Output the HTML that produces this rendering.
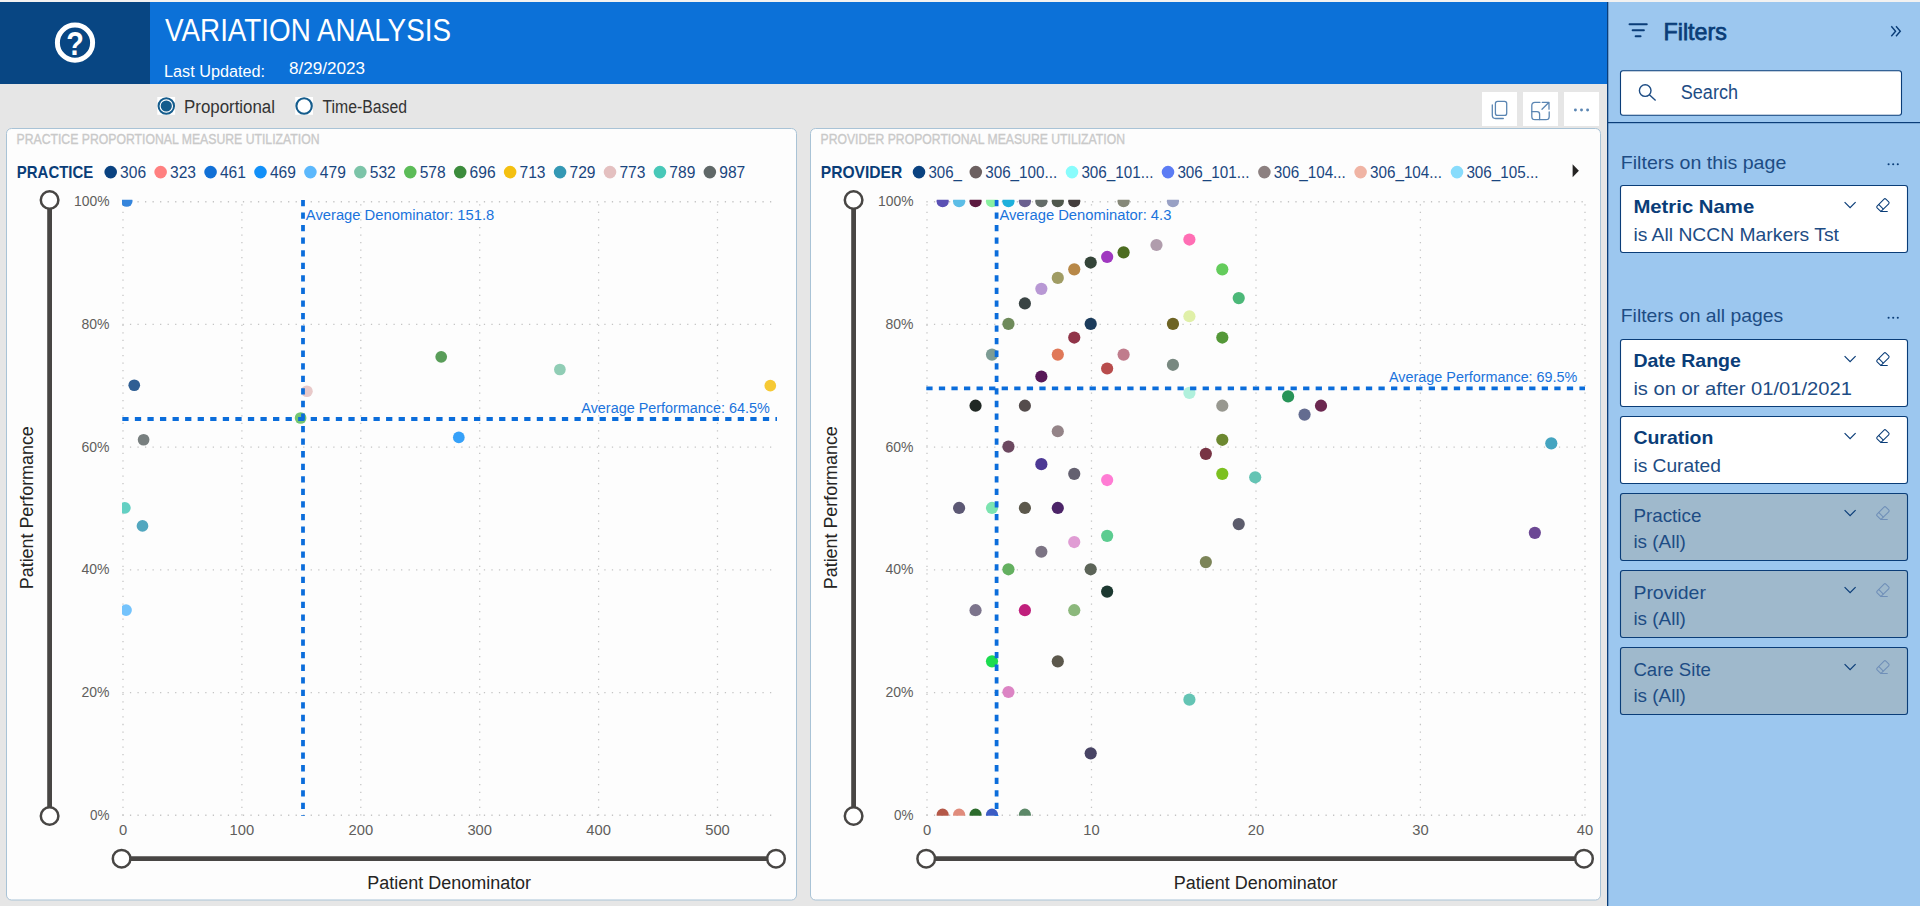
<!DOCTYPE html>
<html lang="en"><head><meta charset="utf-8"><title>Variation Analysis</title>
<style>
html,body{margin:0;padding:0;background:#e6e6e6;overflow:hidden}
svg{display:block;font-family:"Liberation Sans",sans-serif}
</style></head><body>
<svg width="1920" height="906" viewBox="0 0 1920 906">
<rect x="0" y="0" width="1920" height="906" fill="#e6e6e6"/>
<rect x="0" y="0" width="1920" height="2" fill="#f3f2f1"/>
<rect x="0" y="2" width="150" height="82" fill="#084683"/>
<rect x="150" y="2" width="1457" height="82" fill="#0c71d8"/>
<circle cx="75" cy="42.65" r="17.6" fill="none" stroke="#fff" stroke-width="5"/>
<text x="66.2" y="55" font-size="32.8" fill="#fff" textLength="17.6" lengthAdjust="spacingAndGlyphs" font-weight="bold" >?</text>
<text x="165" y="40.75" font-size="30.6" fill="#fff" textLength="286" lengthAdjust="spacingAndGlyphs" >VARIATION ANALYSIS</text>
<text x="164" y="76.75" font-size="17.2" fill="#fff" textLength="101" lengthAdjust="spacingAndGlyphs" >Last Updated:</text>
<text x="289" y="74.25" font-size="17.2" fill="#fff" textLength="76" lengthAdjust="spacingAndGlyphs" >8/29/2023</text>
<rect x="157.3" y="97" width="17.8" height="17.8" fill="#fff"/>
<circle cx="166.3" cy="106" r="7.75" fill="#fff" stroke="#155c8c" stroke-width="2"/>
<circle cx="166.3" cy="106" r="5.6" fill="#155c8c"/>
<text x="184" y="113" font-size="17.6" fill="#333" textLength="91" lengthAdjust="spacingAndGlyphs" >Proportional</text>
<rect x="295.2" y="97" width="17.8" height="17.8" fill="#fff"/>
<circle cx="304.1" cy="106" r="7.7" fill="#fff" stroke="#155c8c" stroke-width="2.1"/>
<text x="322.5" y="113" font-size="17.6" fill="#333" textLength="84.5" lengthAdjust="spacingAndGlyphs" >Time-Based</text>
<rect x="1482" y="92" width="35" height="34" fill="#fff"/>
<rect x="1523" y="92" width="35" height="34" fill="#fff"/>
<rect x="1564" y="92" width="35" height="34" fill="#fff"/>
<g fill="none" stroke="#5b86b3" stroke-width="1.3" stroke-linecap="round" stroke-linejoin="round">
<rect x="1495.4" y="101.3" width="11.3" height="14.1" rx="2.2"/>
<path d="M1492.3 105 V115.3 Q1492.3 118.5 1495.6 118.5 H1503.3"/>
<path d="M1540 102.3 H1535 Q1531.8 102.3 1531.8 105.5 V116.4 Q1531.8 119.6 1535 119.6 H1546 Q1549.2 119.6 1549.2 116.4 V112"/>
<path d="M1531.8 111.7 H1537 Q1539.6 111.7 1539.6 114.3 V119.6"/>
<path d="M1542 109.3 L1548.8 102.5 M1542.2 102.3 H1549 V109.2"/>
</g>
<circle cx="1575.4" cy="110" r="1.45" fill="#5b86b3"/>
<circle cx="1581.5" cy="110" r="1.45" fill="#5b86b3"/>
<circle cx="1587.6" cy="110" r="1.45" fill="#5b86b3"/>
<rect x="6.5" y="128.5" width="790" height="771.5" rx="5" fill="#fdfdfd" stroke="#a9c3d6" stroke-width="1"/>
<rect x="810.5" y="128.5" width="790" height="771.5" rx="5" fill="#fdfdfd" stroke="#a9c3d6" stroke-width="1"/>
<text x="16.5" y="144.25" font-size="13.9" fill="#c9c9c9" textLength="303" lengthAdjust="spacingAndGlyphs" stroke="#c9c9c9" stroke-width="0.35">PRACTICE PROPORTIONAL MEASURE UTILIZATION</text>
<text x="16.8" y="177.8" font-size="16.9" fill="#0a3d78" textLength="76.5" lengthAdjust="spacingAndGlyphs" font-weight="bold" >PRACTICE</text>
<circle cx="110.7" cy="172.1" r="6.3" fill="#0a4280"/>
<text x="120.1" y="177.8" font-size="16.7" fill="#1a467f" textLength="26" lengthAdjust="spacingAndGlyphs" >306</text>
<circle cx="160.63" cy="172.1" r="6.3" fill="#ff8080"/>
<text x="170.03" y="177.8" font-size="16.7" fill="#1a467f" textLength="26" lengthAdjust="spacingAndGlyphs" >323</text>
<circle cx="210.56" cy="172.1" r="6.3" fill="#1170d6"/>
<text x="219.96" y="177.8" font-size="16.7" fill="#1a467f" textLength="26" lengthAdjust="spacingAndGlyphs" >461</text>
<circle cx="260.49" cy="172.1" r="6.3" fill="#1290f8"/>
<text x="269.89" y="177.8" font-size="16.7" fill="#1a467f" textLength="26" lengthAdjust="spacingAndGlyphs" >469</text>
<circle cx="310.42" cy="172.1" r="6.3" fill="#5cb8fc"/>
<text x="319.82" y="177.8" font-size="16.7" fill="#1a467f" textLength="26" lengthAdjust="spacingAndGlyphs" >479</text>
<circle cx="360.35" cy="172.1" r="6.3" fill="#7cc4a8"/>
<text x="369.75" y="177.8" font-size="16.7" fill="#1a467f" textLength="26" lengthAdjust="spacingAndGlyphs" >532</text>
<circle cx="410.28" cy="172.1" r="6.3" fill="#5cbc58"/>
<text x="419.68" y="177.8" font-size="16.7" fill="#1a467f" textLength="26" lengthAdjust="spacingAndGlyphs" >578</text>
<circle cx="460.21" cy="172.1" r="6.3" fill="#3c8c3c"/>
<text x="469.61" y="177.8" font-size="16.7" fill="#1a467f" textLength="26" lengthAdjust="spacingAndGlyphs" >696</text>
<circle cx="510.14" cy="172.1" r="6.3" fill="#f4c010"/>
<text x="519.54" y="177.8" font-size="16.7" fill="#1a467f" textLength="26" lengthAdjust="spacingAndGlyphs" >713</text>
<circle cx="560.07" cy="172.1" r="6.3" fill="#3498b4"/>
<text x="569.47" y="177.8" font-size="16.7" fill="#1a467f" textLength="26" lengthAdjust="spacingAndGlyphs" >729</text>
<circle cx="610.0" cy="172.1" r="6.3" fill="#e4c0c0"/>
<text x="619.4" y="177.8" font-size="16.7" fill="#1a467f" textLength="26" lengthAdjust="spacingAndGlyphs" >773</text>
<circle cx="659.93" cy="172.1" r="6.3" fill="#48c8b8"/>
<text x="669.33" y="177.8" font-size="16.7" fill="#1a467f" textLength="26" lengthAdjust="spacingAndGlyphs" >789</text>
<circle cx="709.86" cy="172.1" r="6.3" fill="#606868"/>
<text x="719.26" y="177.8" font-size="16.7" fill="#1a467f" textLength="26" lengthAdjust="spacingAndGlyphs" >987</text>
<g stroke="#c4c4c4" stroke-width="1.26" stroke-dasharray="1.26 6.27" fill="none">
<path d="M122.4 815.25 H772"/>
<path d="M122.4 692.55 H772"/>
<path d="M122.4 569.85 H772"/>
<path d="M122.4 447.15 H772"/>
<path d="M122.4 324.45 H772"/>
<path d="M122.4 201.75 H772"/>
<path d="M123 204.3 V816"/>
<path d="M241.9 204.3 V816"/>
<path d="M360.8 204.3 V816"/>
<path d="M479.7 204.3 V816"/>
<path d="M598.6 204.3 V816"/>
<path d="M717.5 204.3 V816"/>
</g>
<text x="90.0" y="819.85" font-size="15" fill="#605e5c" textLength="19.5" lengthAdjust="spacingAndGlyphs" >0%</text>
<text x="81.5" y="697.15" font-size="15" fill="#605e5c" textLength="28" lengthAdjust="spacingAndGlyphs" >20%</text>
<text x="81.5" y="574.45" font-size="15" fill="#605e5c" textLength="28" lengthAdjust="spacingAndGlyphs" >40%</text>
<text x="81.5" y="451.75" font-size="15" fill="#605e5c" textLength="28" lengthAdjust="spacingAndGlyphs" >60%</text>
<text x="81.5" y="329.05" font-size="15" fill="#605e5c" textLength="28" lengthAdjust="spacingAndGlyphs" >80%</text>
<text x="74.0" y="206.35" font-size="15" fill="#605e5c" textLength="35.5" lengthAdjust="spacingAndGlyphs" >100%</text>
<text x="118.9" y="835" font-size="15" fill="#605e5c" textLength="8.2" lengthAdjust="spacingAndGlyphs" >0</text>
<text x="229.6" y="835" font-size="15" fill="#605e5c" textLength="24.6" lengthAdjust="spacingAndGlyphs" >100</text>
<text x="348.5" y="835" font-size="15" fill="#605e5c" textLength="24.6" lengthAdjust="spacingAndGlyphs" >200</text>
<text x="467.4" y="835" font-size="15" fill="#605e5c" textLength="24.6" lengthAdjust="spacingAndGlyphs" >300</text>
<text x="586.3" y="835" font-size="15" fill="#605e5c" textLength="24.6" lengthAdjust="spacingAndGlyphs" >400</text>
<text x="705.2" y="835" font-size="15" fill="#605e5c" textLength="24.6" lengthAdjust="spacingAndGlyphs" >500</text>
<path d="M49.6 200 V816" stroke="#484644" stroke-width="4.8"/>
<path d="M121.5 858.7 H776" stroke="#484644" stroke-width="4.8"/>
<circle cx="49.6" cy="200" r="8.8" fill="#fff" stroke="#484644" stroke-width="2.5"/>
<circle cx="49.6" cy="816" r="8.8" fill="#fff" stroke="#484644" stroke-width="2.5"/>
<circle cx="121.6" cy="858.7" r="8.8" fill="#fff" stroke="#484644" stroke-width="2.5"/>
<circle cx="776" cy="858.7" r="8.8" fill="#fff" stroke="#484644" stroke-width="2.5"/>
<text x="367.3" y="888.6" font-size="17.6" fill="#252423" textLength="163.8" lengthAdjust="spacingAndGlyphs" >Patient Denominator</text>
<text transform="translate(32.8 589.2) rotate(-90)" font-size="17.6" fill="#252423" textLength="163" lengthAdjust="spacingAndGlyphs">Patient Performance</text>
<clipPath id="cl"><rect x="122" y="199.8" width="664" height="616"/></clipPath>
<g clip-path="url(#cl)">
<circle cx="126.70" cy="201.00" r="5.85" fill="#3585dc"/>
<circle cx="134.25" cy="385.25" r="5.85" fill="#2f5e93"/>
<circle cx="143.60" cy="439.75" r="5.85" fill="#787f7f"/>
<circle cx="124.85" cy="507.80" r="5.85" fill="#63d0c3"/>
<circle cx="142.50" cy="525.90" r="5.85" fill="#52a7bf"/>
<circle cx="126.05" cy="610.10" r="5.85" fill="#74c3fc"/>
<circle cx="306.90" cy="391.25" r="5.85" fill="#e8c9c9"/>
<circle cx="300.60" cy="418.00" r="5.85" fill="#74c671"/>
<circle cx="441.20" cy="356.80" r="5.85" fill="#599d59"/>
<circle cx="458.80" cy="437.40" r="5.85" fill="#36a1f9"/>
<circle cx="559.90" cy="369.50" r="5.85" fill="#90cdb5"/>
<circle cx="770.30" cy="385.70" r="5.85" fill="#f6c934"/>
</g>
<g stroke="#0b6ddb" stroke-width="3.77" stroke-dasharray="6.28 6.28" fill="none">
<path d="M303 199.9 V816"/>
<path d="M122.3 419 H777"/>
</g>
<text x="305.8" y="219.8" font-size="14.9" fill="#1a73dc" textLength="188.5" lengthAdjust="spacingAndGlyphs" >Average Denominator: 151.8</text>
<text x="581.3" y="413.2" font-size="14.9" fill="#1a73dc" textLength="188.6" lengthAdjust="spacingAndGlyphs" >Average Performance: 64.5%</text>
<text x="820.5" y="144.25" font-size="13.9" fill="#c9c9c9" textLength="304.5" lengthAdjust="spacingAndGlyphs" stroke="#c9c9c9" stroke-width="0.35">PROVIDER PROPORTIONAL MEASURE UTILIZATION</text>
<text x="820.8" y="177.8" font-size="16.9" fill="#0a3d78" textLength="81.5" lengthAdjust="spacingAndGlyphs" font-weight="bold" >PROVIDER</text>
<circle cx="919" cy="172.1" r="6.3" fill="#0a4280"/>
<text x="928.4" y="177.8" font-size="16.7" fill="#1a467f" textLength="33.5" lengthAdjust="spacingAndGlyphs" >306_</text>
<circle cx="975.8" cy="172.1" r="6.3" fill="#6c6060"/>
<text x="985.2" y="177.8" font-size="16.7" fill="#1a467f" textLength="72" lengthAdjust="spacingAndGlyphs" >306_100...</text>
<circle cx="1072" cy="172.1" r="6.3" fill="#88fcfc"/>
<text x="1081.4" y="177.8" font-size="16.7" fill="#1a467f" textLength="72" lengthAdjust="spacingAndGlyphs" >306_101...</text>
<circle cx="1168" cy="172.1" r="6.3" fill="#5c7cf4"/>
<text x="1177.4" y="177.8" font-size="16.7" fill="#1a467f" textLength="72" lengthAdjust="spacingAndGlyphs" >306_101...</text>
<circle cx="1264.4" cy="172.1" r="6.3" fill="#8c8080"/>
<text x="1273.8" y="177.8" font-size="16.7" fill="#1a467f" textLength="72" lengthAdjust="spacingAndGlyphs" >306_104...</text>
<circle cx="1360.6" cy="172.1" r="6.3" fill="#f0b4a4"/>
<text x="1370.0" y="177.8" font-size="16.7" fill="#1a467f" textLength="72" lengthAdjust="spacingAndGlyphs" >306_104...</text>
<circle cx="1457" cy="172.1" r="6.3" fill="#88dcfc"/>
<text x="1466.4" y="177.8" font-size="16.7" fill="#1a467f" textLength="72" lengthAdjust="spacingAndGlyphs" >306_105...</text>
<g stroke="#c4c4c4" stroke-width="1.26" stroke-dasharray="1.26 6.27" fill="none">
<path d="M926.4 815.25 H1585"/>
<path d="M926.4 692.55 H1585"/>
<path d="M926.4 569.85 H1585"/>
<path d="M926.4 447.15 H1585"/>
<path d="M926.4 324.45 H1585"/>
<path d="M926.4 201.75 H1585"/>
<path d="M927 204.3 V816"/>
<path d="M1091.5 204.3 V816"/>
<path d="M1256 204.3 V816"/>
<path d="M1420.4 204.3 V816"/>
<path d="M1585 204.3 V816"/>
</g>
<text x="894.0" y="819.85" font-size="15" fill="#605e5c" textLength="19.5" lengthAdjust="spacingAndGlyphs" >0%</text>
<text x="885.5" y="697.15" font-size="15" fill="#605e5c" textLength="28" lengthAdjust="spacingAndGlyphs" >20%</text>
<text x="885.5" y="574.45" font-size="15" fill="#605e5c" textLength="28" lengthAdjust="spacingAndGlyphs" >40%</text>
<text x="885.5" y="451.75" font-size="15" fill="#605e5c" textLength="28" lengthAdjust="spacingAndGlyphs" >60%</text>
<text x="885.5" y="329.05" font-size="15" fill="#605e5c" textLength="28" lengthAdjust="spacingAndGlyphs" >80%</text>
<text x="878.0" y="206.35" font-size="15" fill="#605e5c" textLength="35.5" lengthAdjust="spacingAndGlyphs" >100%</text>
<text x="922.9" y="835" font-size="15" fill="#605e5c" textLength="8.2" lengthAdjust="spacingAndGlyphs" >0</text>
<text x="1083.3" y="835" font-size="15" fill="#605e5c" textLength="16.4" lengthAdjust="spacingAndGlyphs" >10</text>
<text x="1247.8" y="835" font-size="15" fill="#605e5c" textLength="16.4" lengthAdjust="spacingAndGlyphs" >20</text>
<text x="1412.2" y="835" font-size="15" fill="#605e5c" textLength="16.4" lengthAdjust="spacingAndGlyphs" >30</text>
<text x="1576.8" y="835" font-size="15" fill="#605e5c" textLength="16.4" lengthAdjust="spacingAndGlyphs" >40</text>
<path d="M853.6 200 V816" stroke="#484644" stroke-width="4.8"/>
<path d="M925.5 858.7 H1584" stroke="#484644" stroke-width="4.8"/>
<circle cx="853.6" cy="200" r="8.8" fill="#fff" stroke="#484644" stroke-width="2.5"/>
<circle cx="853.6" cy="816" r="8.8" fill="#fff" stroke="#484644" stroke-width="2.5"/>
<circle cx="926.2" cy="858.7" r="8.8" fill="#fff" stroke="#484644" stroke-width="2.5"/>
<circle cx="1584" cy="858.7" r="8.8" fill="#fff" stroke="#484644" stroke-width="2.5"/>
<text x="1173.8" y="888.6" font-size="17.6" fill="#252423" textLength="163.8" lengthAdjust="spacingAndGlyphs" >Patient Denominator</text>
<text transform="translate(836.8 589.2) rotate(-90)" font-size="17.6" fill="#252423" textLength="163" lengthAdjust="spacingAndGlyphs">Patient Performance</text>
<clipPath id="cr"><rect x="926" y="199.8" width="673" height="616"/></clipPath>
<g clip-path="url(#cr)">
<circle cx="942.65" cy="201.20" r="6.1" fill="#5a50b4"/>
<circle cx="959.10" cy="201.20" r="6.1" fill="#5cbde6"/>
<circle cx="975.55" cy="201.20" r="6.1" fill="#5c1a40"/>
<circle cx="992.00" cy="201.20" r="6.1" fill="#88f0a0"/>
<circle cx="1008.45" cy="201.20" r="6.1" fill="#1eb0dc"/>
<circle cx="1024.90" cy="201.20" r="6.1" fill="#6a6090"/>
<circle cx="1041.35" cy="201.20" r="6.1" fill="#646c68"/>
<circle cx="1057.80" cy="201.20" r="6.1" fill="#50584c"/>
<circle cx="1074.25" cy="201.20" r="6.1" fill="#443e3c"/>
<circle cx="1123.60" cy="201.20" r="6.1" fill="#868878"/>
<circle cx="1172.95" cy="201.20" r="6.1" fill="#98a0c4"/>
<circle cx="1008.45" cy="323.90" r="6.1" fill="#6e8a5a"/>
<circle cx="1024.90" cy="303.45" r="6.1" fill="#3a4444"/>
<circle cx="1041.35" cy="288.84" r="6.1" fill="#b898d4"/>
<circle cx="1057.80" cy="277.89" r="6.1" fill="#a09c64"/>
<circle cx="1074.25" cy="269.37" r="6.1" fill="#b88848"/>
<circle cx="1090.70" cy="262.55" r="6.1" fill="#344438"/>
<circle cx="1107.15" cy="256.97" r="6.1" fill="#a038c0"/>
<circle cx="1123.60" cy="252.33" r="6.1" fill="#4c6c20"/>
<circle cx="1156.50" cy="245.02" r="6.1" fill="#b09cac"/>
<circle cx="1189.40" cy="239.54" r="6.1" fill="#ff6eb4"/>
<circle cx="1222.30" cy="269.37" r="6.1" fill="#64cc5c"/>
<circle cx="1238.75" cy="298.07" r="6.1" fill="#4cb878"/>
<circle cx="1189.40" cy="316.23" r="6.1" fill="#e0f0a8"/>
<circle cx="1172.95" cy="323.90" r="6.1" fill="#6e6424"/>
<circle cx="1090.70" cy="323.90" r="6.1" fill="#1c3c5c"/>
<circle cx="1222.30" cy="337.53" r="6.1" fill="#549838"/>
<circle cx="1074.25" cy="337.53" r="6.1" fill="#903448"/>
<circle cx="992.00" cy="354.58" r="6.1" fill="#7c9c94"/>
<circle cx="1057.80" cy="354.58" r="6.1" fill="#e07858"/>
<circle cx="1123.60" cy="354.58" r="6.1" fill="#c07c8c"/>
<circle cx="1107.15" cy="368.52" r="6.1" fill="#b84c4c"/>
<circle cx="1172.95" cy="364.80" r="6.1" fill="#788880"/>
<circle cx="1041.35" cy="376.49" r="6.1" fill="#581858"/>
<circle cx="1189.40" cy="392.92" r="6.1" fill="#b0f0dc"/>
<circle cx="1288.10" cy="396.40" r="6.1" fill="#289458"/>
<circle cx="1321.00" cy="405.70" r="6.1" fill="#6c2850"/>
<circle cx="1304.55" cy="414.59" r="6.1" fill="#646c90"/>
<circle cx="1222.30" cy="405.70" r="6.1" fill="#989890"/>
<circle cx="975.55" cy="405.70" r="6.1" fill="#202824"/>
<circle cx="1024.90" cy="405.70" r="6.1" fill="#544c4c"/>
<circle cx="1057.80" cy="431.26" r="6.1" fill="#948488"/>
<circle cx="1222.30" cy="439.78" r="6.1" fill="#6c8830"/>
<circle cx="1008.45" cy="446.60" r="6.1" fill="#6c4860"/>
<circle cx="1205.85" cy="453.82" r="6.1" fill="#783444"/>
<circle cx="1041.35" cy="464.13" r="6.1" fill="#4c3894"/>
<circle cx="1074.25" cy="473.87" r="6.1" fill="#646070"/>
<circle cx="1222.30" cy="473.87" r="6.1" fill="#7cc020"/>
<circle cx="1255.20" cy="477.28" r="6.1" fill="#64c4b4"/>
<circle cx="1107.15" cy="480.06" r="6.1" fill="#ff7cd4"/>
<circle cx="959.10" cy="507.95" r="6.1" fill="#5c5874"/>
<circle cx="992.00" cy="507.95" r="6.1" fill="#7ce4b0"/>
<circle cx="1024.90" cy="507.95" r="6.1" fill="#5c584c"/>
<circle cx="1057.80" cy="507.95" r="6.1" fill="#4c2468"/>
<circle cx="1238.75" cy="524.09" r="6.1" fill="#5c5c6c"/>
<circle cx="1107.15" cy="535.84" r="6.1" fill="#5ccc90"/>
<circle cx="1074.25" cy="542.03" r="6.1" fill="#e09cd4"/>
<circle cx="1041.35" cy="551.77" r="6.1" fill="#7c7484"/>
<circle cx="1205.85" cy="562.08" r="6.1" fill="#7c8458"/>
<circle cx="1008.45" cy="569.30" r="6.1" fill="#64b060"/>
<circle cx="1090.70" cy="569.30" r="6.1" fill="#5c6458"/>
<circle cx="1107.15" cy="591.61" r="6.1" fill="#1c3830"/>
<circle cx="975.55" cy="610.20" r="6.1" fill="#7c748c"/>
<circle cx="1024.90" cy="610.20" r="6.1" fill="#c0207c"/>
<circle cx="1074.25" cy="610.20" r="6.1" fill="#8cb87c"/>
<circle cx="992.00" cy="661.33" r="6.1" fill="#1cdc50"/>
<circle cx="1057.80" cy="661.33" r="6.1" fill="#5c584c"/>
<circle cx="1008.45" cy="692.00" r="6.1" fill="#dc84c4"/>
<circle cx="1189.40" cy="699.67" r="6.1" fill="#64c4b4"/>
<circle cx="1090.70" cy="753.35" r="6.1" fill="#484464"/>
<circle cx="942.65" cy="814.70" r="6.1" fill="#b45848"/>
<circle cx="959.10" cy="814.70" r="6.1" fill="#e08c7c"/>
<circle cx="975.55" cy="814.70" r="6.1" fill="#2c6c2c"/>
<circle cx="992.00" cy="814.70" r="6.1" fill="#3c5cc4"/>
<circle cx="1024.90" cy="814.70" r="6.1" fill="#5c8868"/>
<circle cx="1551.30" cy="443.37" r="6.1" fill="#44a4c0"/>
<circle cx="1534.85" cy="532.82" r="6.1" fill="#6c4894"/>
</g>
<g stroke="#0b6ddb" stroke-width="3.77" stroke-dasharray="6.28 6.28" fill="none">
<path d="M996.6 199.9 V816"/>
<path d="M926.3 388.4 H1585"/>
</g>
<text x="999.4" y="219.8" font-size="14.9" fill="#1a73dc" textLength="172" lengthAdjust="spacingAndGlyphs" >Average Denominator: 4.3</text>
<text x="1389.0" y="381.8" font-size="14.9" fill="#1a73dc" textLength="188.4" lengthAdjust="spacingAndGlyphs" >Average Performance: 69.5%</text>
<path d="M1572.6 164.2 L1578.9 170.75 L1572.6 177.3 Z" fill="#252423"/>
<rect x="1607" y="2" width="313" height="904" fill="#9cc7ef"/>
<rect x="1607" y="2" width="1.3" height="904" fill="#0a3d78"/>
<rect x="1608" y="122" width="312" height="1.2" fill="#0a3d78"/>
<g stroke="#0a3d78" stroke-width="1.9" stroke-linecap="round"><path d="M1629.5 24.2 H1646.8"/><path d="M1632.6 30.3 H1643.9"/><path d="M1635.6 36.2 H1640.6"/></g>
<text x="1663.6" y="39.7" font-size="23.8" fill="#0a3d78" textLength="63.2" lengthAdjust="spacingAndGlyphs" stroke="#0a3d78" stroke-width="0.75">Filters</text>
<path d="M1891.3 26.2 L1895.6 31.2 L1891.3 36.3 M1896 26.2 L1900.3 31.2 L1896 36.3" fill="none" stroke="#0a3d78" stroke-width="1.4"/>
<rect x="1620.5" y="70.8" width="281" height="44.5" rx="2.5" fill="#fff" stroke="#0a3d78" stroke-width="1.1"/>
<circle cx="1645.2" cy="90.6" r="5.8" fill="none" stroke="#1d4c84" stroke-width="1.4"/><path d="M1649.4 94.8 L1655.6 100.6" stroke="#1d4c84" stroke-width="1.4"/>
<text x="1680.8" y="98.7" font-size="19.4" fill="#1d4c84" textLength="57.2" lengthAdjust="spacingAndGlyphs" >Search</text>
<text x="1620.8" y="168.8" font-size="19" fill="#1d4c84" textLength="165.5" lengthAdjust="spacingAndGlyphs" >Filters on this page</text>
<circle cx="1888.6" cy="164.2" r="1.05" fill="#0a3d78"/>
<circle cx="1893.1999999999998" cy="164.2" r="1.05" fill="#0a3d78"/>
<circle cx="1897.8" cy="164.2" r="1.05" fill="#0a3d78"/>
<text x="1620.8" y="322.4" font-size="19" fill="#1d4c84" textLength="162.5" lengthAdjust="spacingAndGlyphs" >Filters on all pages</text>
<circle cx="1888.6" cy="317.8" r="1.05" fill="#0a3d78"/>
<circle cx="1893.1999999999998" cy="317.8" r="1.05" fill="#0a3d78"/>
<circle cx="1897.8" cy="317.8" r="1.05" fill="#0a3d78"/>
<rect x="1620.5" y="185.5" width="287" height="67" rx="2.5" fill="#fff" stroke="#0a3d78" stroke-width="1.1"/>
<text x="1633.4" y="213.3" font-size="18.6" fill="#0a3d78" textLength="120.8" lengthAdjust="spacingAndGlyphs" font-weight="bold" >Metric Name</text>
<text x="1633.4" y="240.8" font-size="19" fill="#1d4c84" textLength="205.5" lengthAdjust="spacingAndGlyphs" >is All NCCN Markers Tst</text>
<path d="M1844.6 202.20 L1850.1 207.70 L1855.6 202.20" fill="none" stroke="#0a3d78" stroke-width="1.2"/>
<g transform="translate(1882.9 204.9) rotate(-45)" fill="none" stroke="#0a3d78" stroke-width="1.05" stroke-linejoin="round"><rect x="-6.2" y="-3.3" width="12.4" height="6.6" rx="1.3"/><path d="M-2.7 -3.3 V3.3"/></g>
<path d="M1880.3 211.5 H1887.7" stroke="#0a3d78" stroke-width="1.05"/>
<rect x="1620.5" y="339.5" width="287" height="67" rx="2.5" fill="#fff" stroke="#0a3d78" stroke-width="1.1"/>
<text x="1633.4" y="367.3" font-size="18.6" fill="#0a3d78" textLength="107.5" lengthAdjust="spacingAndGlyphs" font-weight="bold" >Date Range</text>
<text x="1633.4" y="394.8" font-size="19" fill="#1d4c84" textLength="218.5" lengthAdjust="spacingAndGlyphs" >is on or after 01/01/2021</text>
<path d="M1844.6 356.20 L1850.1 361.70 L1855.6 356.20" fill="none" stroke="#0a3d78" stroke-width="1.2"/>
<g transform="translate(1882.9 358.9) rotate(-45)" fill="none" stroke="#0a3d78" stroke-width="1.05" stroke-linejoin="round"><rect x="-6.2" y="-3.3" width="12.4" height="6.6" rx="1.3"/><path d="M-2.7 -3.3 V3.3"/></g>
<path d="M1880.3 365.5 H1887.7" stroke="#0a3d78" stroke-width="1.05"/>
<rect x="1620.5" y="416.5" width="287" height="67" rx="2.5" fill="#fff" stroke="#0a3d78" stroke-width="1.1"/>
<text x="1633.4" y="444.3" font-size="18.6" fill="#0a3d78" textLength="80" lengthAdjust="spacingAndGlyphs" font-weight="bold" >Curation</text>
<text x="1633.4" y="471.8" font-size="19" fill="#1d4c84" textLength="87.5" lengthAdjust="spacingAndGlyphs" >is Curated</text>
<path d="M1844.6 433.20 L1850.1 438.70 L1855.6 433.20" fill="none" stroke="#0a3d78" stroke-width="1.2"/>
<g transform="translate(1882.9 435.9) rotate(-45)" fill="none" stroke="#0a3d78" stroke-width="1.05" stroke-linejoin="round"><rect x="-6.2" y="-3.3" width="12.4" height="6.6" rx="1.3"/><path d="M-2.7 -3.3 V3.3"/></g>
<path d="M1880.3 442.5 H1887.7" stroke="#0a3d78" stroke-width="1.05"/>
<rect x="1620.5" y="493.5" width="287" height="67" rx="2.5" fill="#9fb9cc" stroke="#0a3d78" stroke-width="1.1"/>
<text x="1633.4" y="521.7" font-size="19" fill="#1d4c84" textLength="68" lengthAdjust="spacingAndGlyphs" >Practice</text>
<text x="1633.4" y="548.1" font-size="19" fill="#1d4c84" textLength="52.5" lengthAdjust="spacingAndGlyphs" >is (All)</text>
<path d="M1844.6 510.20 L1850.1 515.70 L1855.6 510.20" fill="none" stroke="#0a3d78" stroke-width="1.2"/>
<g transform="translate(1882.9 512.9) rotate(-45)" fill="none" stroke="#6f8fb8" stroke-width="1.05" stroke-linejoin="round"><rect x="-6.2" y="-3.3" width="12.4" height="6.6" rx="1.3"/><path d="M-2.7 -3.3 V3.3"/></g>
<path d="M1880.3 519.5 H1887.7" stroke="#6f8fb8" stroke-width="1.05"/>
<rect x="1620.5" y="570.5" width="287" height="67" rx="2.5" fill="#9fb9cc" stroke="#0a3d78" stroke-width="1.1"/>
<text x="1633.4" y="598.7" font-size="19" fill="#1d4c84" textLength="72.5" lengthAdjust="spacingAndGlyphs" >Provider</text>
<text x="1633.4" y="625.1" font-size="19" fill="#1d4c84" textLength="52.5" lengthAdjust="spacingAndGlyphs" >is (All)</text>
<path d="M1844.6 587.20 L1850.1 592.70 L1855.6 587.20" fill="none" stroke="#0a3d78" stroke-width="1.2"/>
<g transform="translate(1882.9 589.9) rotate(-45)" fill="none" stroke="#6f8fb8" stroke-width="1.05" stroke-linejoin="round"><rect x="-6.2" y="-3.3" width="12.4" height="6.6" rx="1.3"/><path d="M-2.7 -3.3 V3.3"/></g>
<path d="M1880.3 596.5 H1887.7" stroke="#6f8fb8" stroke-width="1.05"/>
<rect x="1620.5" y="647.5" width="287" height="67" rx="2.5" fill="#9fb9cc" stroke="#0a3d78" stroke-width="1.1"/>
<text x="1633.4" y="675.7" font-size="19" fill="#1d4c84" textLength="77.5" lengthAdjust="spacingAndGlyphs" >Care Site</text>
<text x="1633.4" y="702.1" font-size="19" fill="#1d4c84" textLength="52.5" lengthAdjust="spacingAndGlyphs" >is (All)</text>
<path d="M1844.6 664.20 L1850.1 669.70 L1855.6 664.20" fill="none" stroke="#0a3d78" stroke-width="1.2"/>
<g transform="translate(1882.9 666.9) rotate(-45)" fill="none" stroke="#6f8fb8" stroke-width="1.05" stroke-linejoin="round"><rect x="-6.2" y="-3.3" width="12.4" height="6.6" rx="1.3"/><path d="M-2.7 -3.3 V3.3"/></g>
<path d="M1880.3 673.5 H1887.7" stroke="#6f8fb8" stroke-width="1.05"/>
</svg>
</body></html>
